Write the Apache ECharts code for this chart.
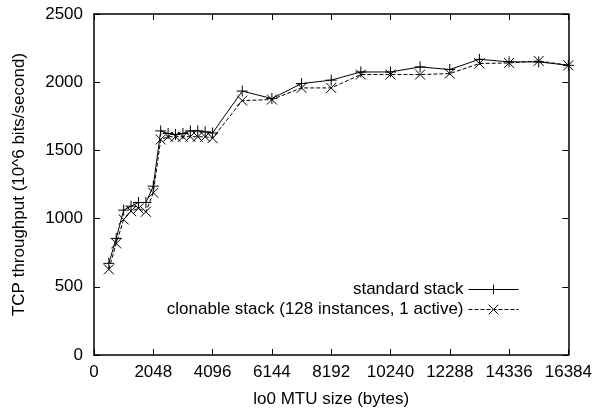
<!DOCTYPE html>
<html>
<head>
<meta charset="utf-8">
<script src="https://cdn.jsdelivr.net/npm/echarts@6/dist/echarts.min.js"></script>
<style>
  body { margin: 0; background: #fff; }
</style>
</head>
<body>
<div id="main" style="width: 595px;height:414px;"></div>
<script type="text/javascript">
// MTU sizes (bytes)
var mtu = [512, 768, 1024, 1280, 1536, 1792, 2048, 2304, 2560, 2816, 3072, 3328, 3584, 3840, 4096,
           5120, 6144, 7168, 8192, 9216, 10240, 11264, 12288, 13312, 14336, 15360, 16384];
// throughput, 10^6 bits/second
var standardStack = [672, 855, 1062, 1091, 1118, 1118, 1238, 1643, 1624, 1617, 1624, 1643, 1643, 1636, 1628,
                     1935, 1880, 1990, 2015, 2075, 2075, 2112, 2093, 2168, 2149, 2149, 2124];
var clonableStack = [628, 818, 994, 1055, 1075, 1050, 1189, 1580, 1600, 1600, 1600, 1600, 1600, 1600, 1590,
                     1865, 1873, 1958, 1958, 2056, 2056, 2056, 2063, 2137, 2141, 2156, 2124];
var xTicks = [0, 2048, 4096, 6144, 8192, 10240, 12288, 14336, 16384];
var names = ['standard stack', 'clonable stack (128 instances, 1 active)'];

function pairs(xs, ys) {
  return xs.map(function (x, i) { return [x, ys[i]]; });
}

var FONT = 'Liberation Sans';
var plus = 'path://M5,0L5,10M0,5L10,5';
var cross = 'path://M0,0L10,10M10,0L0,10';

var myChart = echarts.init(document.getElementById('main'));

var axisCommon = {
  axisLine: { show: true, onZero: false, lineStyle: { color: '#000', width: 1.5 } },
  axisTick: { show: true, inside: true, length: 6, lineStyle: { color: '#000', width: 1 } },
  splitLine: { show: false }
};

var option = {
  animation: false,
  backgroundColor: '#fff',
  textStyle: { fontFamily: FONT, color: '#000' },
  grid: { left: 94, right: 26, top: 14, bottom: 59 },
  legend: {
    orient: 'vertical',
    right: 71,
    top: 276,
    align: 'right',
    itemWidth: 50,
    itemHeight: 12,
    itemGap: 3,
    lineStyle: { width: 1 },
    itemStyle: { borderWidth: 1 },
    textStyle: { fontFamily: FONT, fontSize: 17, color: '#000' },
    data: names
  },
  xAxis: [
    Object.assign({
      type: 'value',
      min: 0,
      max: 16384,
      interval: 2048,
      name: 'lo0 MTU size (bytes)',
      nameLocation: 'middle',
      nameGap: 36,
      nameTextStyle: { fontFamily: FONT, fontSize: 17, color: '#000' },
      axisLabel: {
        margin: 9, fontFamily: FONT, fontSize: 17, color: '#000',
        showMinLabel: true, showMaxLabel: true,
        formatter: function (v) { return xTicks.indexOf(v) >= 0 ? String(v) : ''; }
      }
    }, axisCommon),
    Object.assign({
      type: 'value', position: 'top', min: 0, max: 16384, interval: 2048,
      axisLabel: { show: false }
    }, axisCommon)
  ],
  yAxis: [
    Object.assign({
      type: 'value',
      min: 0,
      max: 2500,
      interval: 500,
      name: 'TCP throughput (10^6 bits/second)',
      nameLocation: 'middle',
      nameGap: 66,
      nameTextStyle: { fontFamily: FONT, fontSize: 17, color: '#000' },
      axisLabel: {
        margin: 11, fontFamily: FONT, fontSize: 17, color: '#000',
        formatter: function (v) { return String(v); }
      }
    }, axisCommon),
    Object.assign({
      type: 'value', position: 'right', min: 0, max: 2500, interval: 500,
      axisLabel: { show: false }
    }, axisCommon)
  ],
  series: [
    {
      name: names[0],
      type: 'line',
      data: pairs(mtu, standardStack),
      symbol: plus,
      symbolSize: 11,
      showAllSymbol: true,
      lineStyle: { color: '#000', width: 1, type: 'solid' },
      itemStyle: { color: 'none', borderColor: '#000', borderWidth: 1 }
    },
    {
      name: names[1],
      type: 'line',
      data: pairs(mtu, clonableStack),
      symbol: cross,
      symbolSize: 10,
      showAllSymbol: true,
      lineStyle: { color: '#000', width: 1, type: [4, 2] },
      itemStyle: { color: 'none', borderColor: '#000', borderWidth: 1 }
    }
  ]
};

myChart.setOption(option);
</script>
</body>
</html>
